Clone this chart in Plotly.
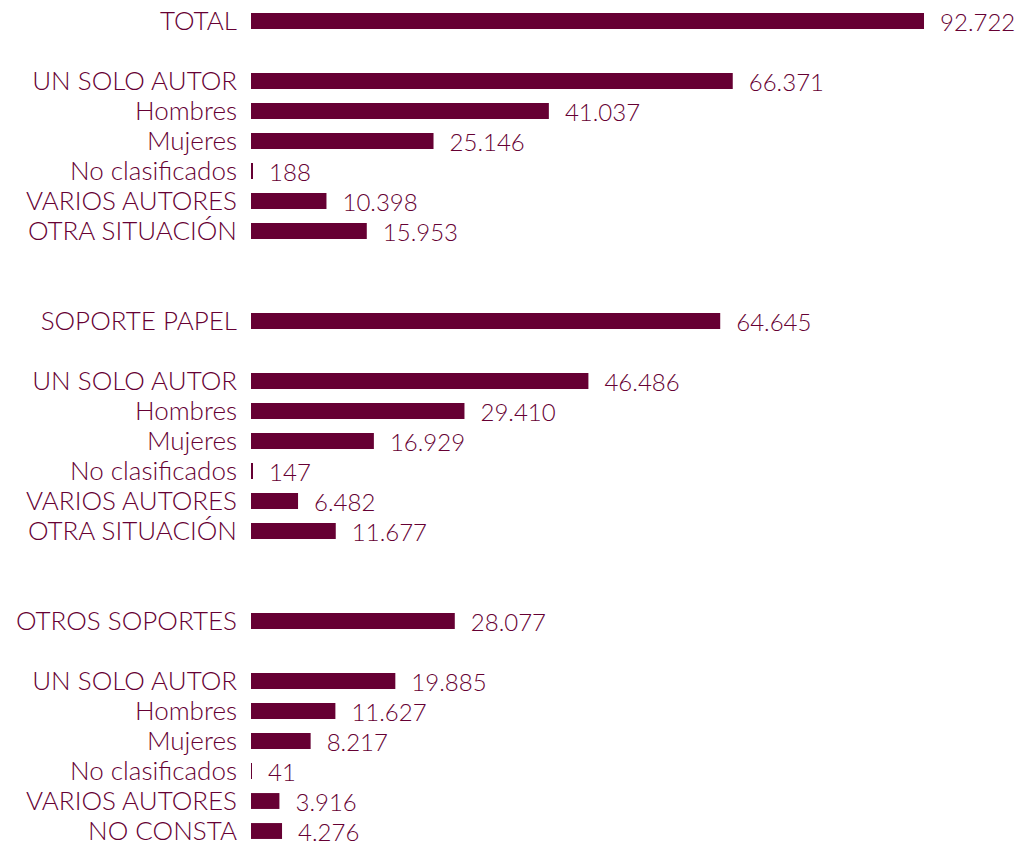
import plotly.graph_objects as go

# datos por bloque: cabecera + desglose
secciones = ["TOTAL", "SOPORTE PAPEL", "OTROS SOPORTES"]
totales = [92722, 64645, 28077]

etiquetas_total = ["UN SOLO AUTOR", "Hombres", "Mujeres", "No clasificados", "VARIOS AUTORES", "OTRA SITUACIÓN"]
valores_total = [66371, 41037, 25146, 188, 10398, 15953]

etiquetas_papel = ["UN SOLO AUTOR", "Hombres", "Mujeres", "No clasificados", "VARIOS AUTORES", "OTRA SITUACIÓN"]
valores_papel = [46486, 29410, 16929, 147, 6482, 11677]

etiquetas_otros = ["UN SOLO AUTOR", "Hombres", "Mujeres", "No clasificados", "VARIOS AUTORES", "NO CONSTA"]
valores_otros = [19885, 11627, 8217, 41, 3916, 4276]

COLOR = "#660033"

bloques = [
    (secciones[0], totales[0], etiquetas_total, valores_total),
    (secciones[1], totales[1], etiquetas_papel, valores_papel),
    (secciones[2], totales[2], etiquetas_otros, valores_otros),
]

# filas: cabecera, hueco, desglose, dos huecos
ys, xs, labels = [], [], []
fila = 0
for cab, tot, etqs, vals in bloques:
    ys.append(fila)
    xs.append(tot)
    labels.append(cab)
    fila += 2
    for e, v in zip(etqs, vals):
        ys.append(fila)
        xs.append(v)
        labels.append(e)
        fila += 1
    fila += 2

font = dict(family="Lato", size=26, color=COLOR, weight=300)
font_val = dict(family="Lato", size=24, color=COLOR, weight=300)

fig = go.Figure(
    go.Bar(
        x=xs,
        y=ys,
        orientation="h",
        marker_color=COLOR,
        marker_line_width=0,
        width=0.53,
        texttemplate="  %{x:,}",
        textposition="outside",
        textfont=font_val,
        constraintext="none",
        cliponaxis=False,
    )
)

# la pagina tiene 8px de margen en el body
fig.update_layout(
    width=1015,
    height=833,
    margin=dict(l=243, r=0, t=0, b=0),
    paper_bgcolor="white",
    plot_bgcolor="white",
    separators=",.",
    showlegend=False,
    font=font,
)
fig.update_xaxes(range=[0, 106360], visible=False, automargin=False)
fig.update_yaxes(
    range=[27.333, -0.4333],
    tickvals=ys,
    ticktext=labels,
    ticklabelstandoff=13,
    ticklabeloverflow="allow",
    showgrid=False,
    zeroline=False,
    showline=False,
    tickfont=font,
    automargin=False,
)

fig.write_html("out.html")
